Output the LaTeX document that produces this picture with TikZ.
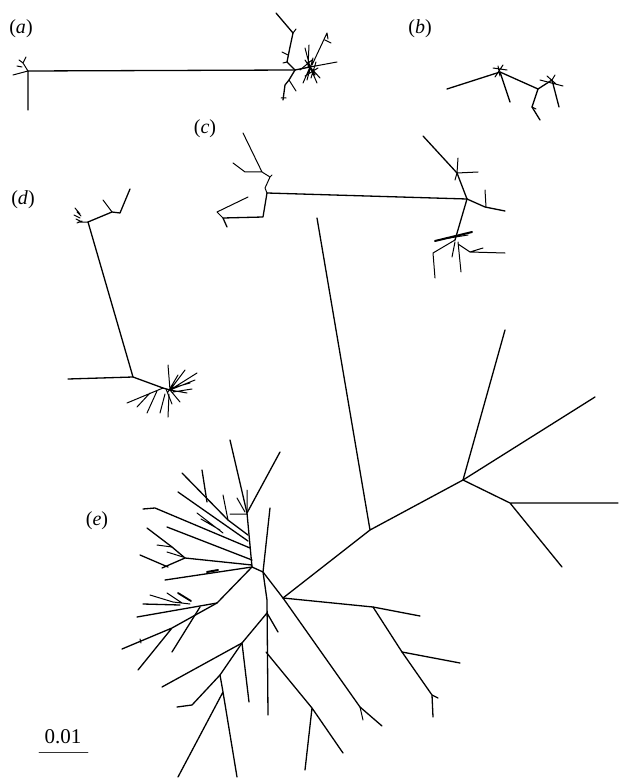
\documentclass[tikz,border=0pt]{standalone}
\usepackage{fontspec}
\setmainfont{Liberation Serif}
\usetikzlibrary{positioning}

\begin{document}
\begin{tikzpicture}[x=1pt, y=-1pt, line join=round, line cap=round,
  br/.style={line width=1.3pt, black},
  twig/.style={line width=1pt, black},
  lbl/.style={font=\fontsize{20}{22}\selectfont, inner sep=0pt}]
\useasboundingbox (0,0) rectangle (619,778);

% panel labels
\node[lbl] (la) at (21,29) {(\textit{a})};
\node[lbl] (lb) at (420,29) {(\textit{b})};
\node[lbl] (lc) at (205,129) {(\textit{c})};
\node[lbl] (ld) at (23,200) {(\textit{d})};
\node[lbl] (le) at (97,521) {(\textit{e})};

% (a)
\draw[br] (28,110) -- (28,71) -- (295,70);
\draw[twig] (28,71) -- (13,75) (28,71) -- (23,63) -- (19,60) (23,63) -- (26,57) (22,67) -- (17,66);
\draw[br] (276,13) -- (293,33) -- (290,47) -- (287,62) -- (295,70);
\draw[twig] (293,33) -- (296,29) (282,52) -- (288,55) (287,62) -- (283,63);
\draw[br] (295,70) -- (289,80) -- (285,85) -- (283,100);
\draw[twig] (281,98) -- (286,98) (289,80) -- (296,91);
\draw[br] (295,70) -- (310,67);
\draw[twig] (310,67) -- (305,48) (308,67) -- (309,45) (310,67) -- (337,62)
  (312,65) -- (327,33) (325,40) -- (331,43) (327,33) -- (328,39)
  (310,67) -- (317,83) (310,67) -- (303,83) (310,67) -- (320,78)
  (305,60) -- (315,75) (300,70) -- (312,60) (318,68) -- (305,76)
  (313,58) -- (307,80) (316,62) -- (311,78);

% (b)
\draw[br] (447,89) -- (500,72) -- (510,102);
\draw[twig] (493,68) -- (507,70) (495,77) -- (503,65) (498,66) -- (500,76);
\draw[br] (500,72) -- (538,89) -- (552,80) -- (559,107);
\draw[br] (538,89) -- (532,107) -- (540,120);
\draw[twig] (532,107) -- (536,109) (540,80) -- (563,86) (547,76) -- (556,84) (552,80) -- (555,75);

% (c)
\draw[br] (267,193) -- (467,199);
\draw[br] (267,193) -- (263,217) -- (223,218) -- (227,227);
\draw[twig] (223,218) -- (217,212) -- (248,197);
\draw[twig] (267,193) -- (265,188) -- (270,177) -- (262,172) -- (243,133)
  (262,172) -- (245,172) -- (233,163) (270,177) -- (272,175);
\draw[br] (423,136) -- (457,173) -- (467,199);
\draw[twig] (457,173) -- (458,158) (457,173) -- (478,172) (457,173) -- (455,180);
\draw[br] (467,199) -- (485,207) -- (505,211);
\draw[twig] (485,190) -- (486,207);
\draw[br] (467,199) -- (455,240);
\draw[line width=2pt] (435,241) -- (472,232);
\draw[twig] (443,239) -- (468,235);
\draw[twig] (455,240) -- (433,253) -- (435,278) (458,242) -- (461,272)
  (455,242) -- (452,257) (458,244) -- (470,252) -- (483,248) (470,252) -- (505,253);

% (d)
\draw[br] (88,222) -- (112,212) -- (120,213) -- (130,189);
\draw[twig] (103,200) -- (112,212);
\draw[twig] (88,222) -- (78,222) (75,208) -- (80,214) (77,212) -- (81,216)
  (74,215) -- (80,218) (77,223) -- (82,221) (76,219) -- (82,222);
\draw[br] (88,222) -- (133,377) -- (68,379);
\draw[br] (133,377) -- (163,388) -- (170,390);
\draw[twig] (170,390) -- (168,365) (170,390) -- (185,370) (170,390) -- (197,373)
  (170,390) -- (195,380) (170,390) -- (187,393) (170,390) -- (180,402)
  (172,388) -- (190,383) (168,392) -- (178,375) (173,392) -- (192,389)
  (166,389) -- (172,404);
\draw[twig] (163,388) -- (127,403) (150,393) -- (137,407) (157,391) -- (147,413)
  (165,394) -- (160,413) (169,394) -- (168,417);

% (e) right part
\draw[br] (317,218) -- (370,530) -- (463,480) -- (505,330);
\draw[br] (463,480) -- (595,397);
\draw[br] (463,480) -- (510,503) -- (618,503) (510,503) -- (562,567);
\draw[br] (370,530) -- (283,598);
\draw[br] (283,598) -- (373,607) -- (420,616);
\draw[br] (373,607) -- (402,652) -- (432,695) -- (433,717) (432,695) -- (438,698);
\draw[br] (402,652) -- (460,663);
\draw[br] (252,567) -- (263,572) -- (283,598) -- (360,707) -- (382,726);
\draw[twig] (360,707) -- (363,720);

% (e) lower part
\draw[br] (270,508) -- (263,572) -- (267,600) -- (268,715);
\draw[br] (267,613) -- (242,643) (267,613) -- (278,632);
\draw[br] (266,652) -- (312,708) -- (343,753) (312,708) -- (305,770);
\draw[br] (242,643) -- (162,687) (242,643) -- (249,702);
\draw[br] (242,643) -- (220,675) -- (192,705) -- (177,707);
\draw[br] (220,675) -- (223,692) -- (237,777) (223,692) -- (178,777);

% (e) left part
\draw[br] (252,567) -- (165,580);
\draw[line width=2pt] (207,572) -- (218,570);
\draw[br] (252,567) -- (217,603) -- (137,617);
\draw[twig] (150,595) -- (173,602) -- (190,604) (167,593) -- (182,603);
\draw[line width=1.8pt] (178,593) -- (191,601);
\draw[br] (143,604) -- (180,605);
\draw[br] (217,603) -- (172,628) -- (122,649) (172,628) -- (138,670);
\draw[twig] (140,639) -- (141,643);
\draw[br] (200,607) -- (172,652);

% (e) upper fan
\draw[br] (230,440) -- (247,513) -- (252,567);
\draw[br] (280,452) -- (247,513);
\draw[twig] (247,490) -- (247,513) (237,498) -- (245,512) (230,514) -- (247,514);
\draw[br] (202,470) -- (207,502);
\draw[br] (182,473) -- (228,520) -- (248,535);
\draw[br] (178,492) -- (248,541);
\draw[twig] (223,495) -- (228,520);
\draw[twig] (197,513) -- (223,533) (201,519) -- (220,530);
\draw[br] (143,509) -- (155,508) -- (250,548);
\draw[br] (167,527) -- (252,560);
\draw[br] (147,528) -- (172,547) -- (185,558) -- (252,565);
\draw[twig] (157,545) -- (172,547) (167,552) -- (183,557);
\draw[br] (140,555) -- (168,567) (162,568) -- (185,558);

% scale bar
\node[font=\fontsize{21}{23}\selectfont, inner sep=0pt] (sc) at (63,737) {0.01};
\draw[line width=0.8pt, black!80] (39,752) -- (88,752);
\end{tikzpicture}
\end{document}
